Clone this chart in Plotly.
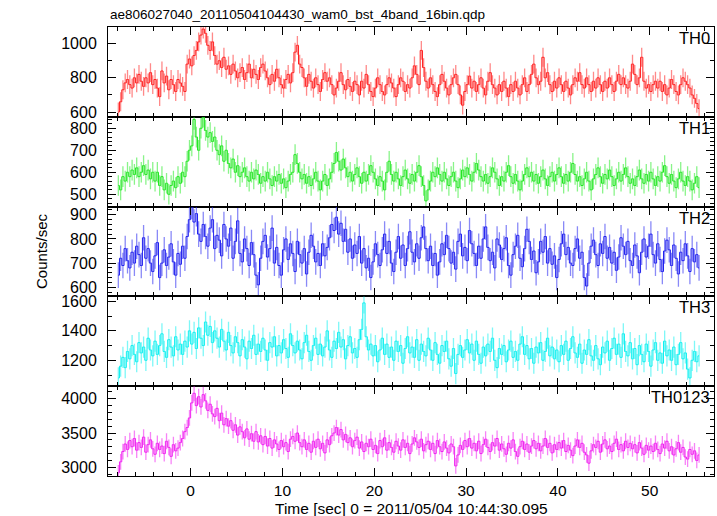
import plotly.graph_objects as go
from plotly.subplots import make_subplots

TITLE = "ae806027040_20110504104430_wam0_bst_4band_16bin.qdp"
XTITLE = "Time [sec] 0 = 2011/05/04 10:44:30.095"
YTITLE = "Counts/sec"
BANDS = ["TH0", "TH1", "TH2", "TH3", "TH0123"]
T_START = -8.0
BIN = 0.25

TH0 = [
    600, 660, 730, 770, 790, 760, 740, 800,
    770, 820, 780, 750, 800, 770, 830, 760,
    790, 740, 690, 840, 770, 810, 730, 790,
    760, 720, 790, 770, 750, 720, 880, 910,
    870, 930, 960, 1010, 1050, 1085, 1060, 990,
    960, 1010, 930, 880, 900, 860, 920, 850,
    870, 820, 880, 840, 800, 830, 860, 790,
    830, 880, 800, 850, 820, 790, 860, 880,
    840, 800, 760, 820, 780, 850, 800, 760,
    740, 790, 820, 770, 830, 950, 990, 880,
    860, 800, 750, 820, 780, 740, 800, 760,
    720, 790, 830, 780, 800, 760, 700, 740,
    780, 830, 760, 730, 790, 750, 720, 780,
    760, 700, 780, 740, 820, 760, 720, 690,
    740, 800, 760, 720, 700, 760, 800, 770,
    740, 690, 760, 800, 780, 720, 760, 740,
    800, 870, 820, 760, 960, 860, 780, 740,
    800, 760, 720, 690, 760, 820, 780, 740,
    700, 760, 800, 820, 760, 700, 640, 720,
    760, 810, 740, 780, 720, 760, 800, 740,
    700, 780, 830, 760, 740, 700, 760, 720,
    780, 740, 690, 760, 720, 780, 740, 700,
    760, 800, 720, 760, 820, 880, 800, 760,
    780, 920, 800, 830, 760, 720, 780, 740,
    800, 760, 720, 780, 740, 700, 760, 800,
    780, 830, 760, 740, 800, 760, 720, 780,
    740, 800, 760, 720, 780, 740, 800, 760,
    720, 780, 820, 760, 800, 760, 740, 780,
    880, 820, 760, 800, 920, 780, 740, 760,
    720, 760, 780, 740, 780, 720, 760, 700,
    740, 790, 760, 720, 700, 760, 800, 780,
    760, 740, 700, 680, 650, 620,
]
TH1 = [
    540, 520, 580, 560, 600, 580, 610, 590,
    620, 580, 600, 630, 590, 610, 570, 600,
    560, 600, 540, 580, 520, 550, 500, 540,
    560, 530, 580, 550, 600, 580, 650, 700,
    720, 840, 760, 700, 800, 850, 790, 760,
    780, 740, 760, 700, 680, 720, 650, 700,
    640, 620, 660, 600, 630, 580, 600, 620,
    580, 560, 600, 570, 610, 590, 550, 580,
    560, 600, 570, 540, 580, 560, 590, 550,
    570, 530, 560, 590, 600, 680, 640, 600,
    570, 590, 550, 580, 540, 570, 600, 560,
    520, 560, 590, 540, 570, 600, 640, 690,
    650, 610, 660, 620, 580, 600, 560, 590,
    620, 580, 550, 600, 560, 590, 630, 600,
    570, 540, 580, 560, 520, 600, 650, 590,
    560, 600, 570, 540, 580, 610, 570, 550,
    590, 560, 600, 630, 580, 540, 470, 520,
    560, 600, 580, 620, 590, 560, 600, 570,
    540, 580, 600, 560, 530, 570, 610, 580,
    620, 590, 560, 600, 640, 610, 580, 560,
    590, 550, 580, 620, 600, 570, 540, 580,
    560, 600, 630, 580, 550, 590, 560, 520,
    560, 590, 620, 580, 600, 560, 590, 550,
    580, 610, 570, 540, 580, 600, 560, 590,
    620, 580, 550, 590, 560, 600, 640, 590,
    560, 580, 540, 570, 600, 560, 520, 570,
    590, 620, 580, 550, 590, 570, 610, 580,
    540, 570, 600, 560, 590, 620, 580, 550,
    570, 540, 580, 610, 570, 550, 590, 560,
    600, 570, 540, 580, 560, 600, 630, 580,
    550, 590, 560, 530, 570, 600, 560, 540,
    580, 560, 520, 550, 580, 530,
]
TH2 = [
    650, 720, 690, 760, 710, 680, 745, 700,
    770, 735, 690, 805, 720, 760, 700, 665,
    730, 785, 640, 700, 755, 690, 725, 780,
    705, 650, 740, 695, 770, 720, 810, 880,
    935, 870, 905, 820, 790, 860, 810, 770,
    845, 880, 760, 815, 795, 730, 860, 800,
    770, 845, 720, 790, 875, 740, 705, 800,
    760, 690, 785, 735, 650, 610, 720, 790,
    815, 725, 760, 845, 700, 765, 690, 650,
    755, 800, 715, 780, 740, 665, 790, 735,
    700, 760, 655, 745, 815, 770, 705, 740,
    690, 780, 730, 765, 805, 860, 835, 890,
    820, 865, 790, 840, 745, 800, 720, 775,
    740, 810, 700, 760, 680, 720, 640, 705,
    780, 735, 690, 755, 820, 740, 790, 700,
    665, 745, 810, 720, 775, 690, 760, 830,
    745, 705, 780, 720, 805, 850, 760, 710,
    770, 690, 740, 650, 705, 780, 735, 815,
    760, 700, 745, 675, 790, 820, 730, 765,
    710, 835, 780, 740, 690, 770, 720, 800,
    850, 765, 710, 745, 680, 800, 775, 715,
    760, 805, 690, 650, 735, 770, 815, 720,
    685, 760, 840, 790, 715, 750, 660, 705,
    790, 745, 810, 700, 760, 695, 730, 640,
    715, 780, 820, 735, 765, 700, 690, 760,
    800, 720, 745, 640, 605, 700, 770, 795,
    735, 690, 780, 740, 810, 720, 765, 700,
    745, 670, 725, 805, 770, 735, 790, 710,
    690, 775, 730, 660, 745, 800, 725, 770,
    820, 735, 700, 780, 715, 665, 750, 795,
    755, 690, 775, 720, 655, 745, 710, 780,
    730, 665, 760, 705, 735, 680,
]
TH3 = [
    1080, 1160, 1220, 1150, 1260, 1210, 1300, 1240,
    1190, 1320, 1250, 1290, 1200, 1350, 1270, 1230,
    1330, 1240, 1300, 1380, 1260, 1220, 1340, 1290,
    1230, 1360, 1270, 1310, 1240, 1330, 1290, 1400,
    1310, 1390, 1280, 1420, 1350, 1300, 1460, 1370,
    1430, 1320, 1400, 1350, 1290, 1410, 1330, 1270,
    1390, 1300, 1250, 1360, 1320, 1230, 1340, 1290,
    1210, 1330, 1280, 1370, 1240, 1310, 1260, 1350,
    1270, 1200, 1320, 1290, 1360, 1230, 1300, 1250,
    1340, 1280, 1220, 1380, 1300, 1250, 1330, 1270,
    1210, 1320, 1370, 1260, 1200, 1300, 1350, 1240,
    1310, 1230, 1290, 1400, 1270, 1220, 1330, 1280,
    1390, 1290, 1340, 1210, 1300, 1360, 1250, 1280,
    1220, 1340, 1410, 1590, 1360, 1270, 1310, 1230,
    1300, 1190, 1270, 1350, 1240, 1310, 1220, 1290,
    1200, 1330, 1260, 1300, 1180, 1280, 1360, 1250,
    1290, 1220, 1340, 1200, 1310, 1260, 1230, 1350,
    1270, 1200, 1320, 1240, 1180, 1300, 1260, 1330,
    1210, 1160, 1280, 1110, 1240, 1300, 1220, 1270,
    1340, 1250, 1310, 1200, 1330, 1240, 1180, 1290,
    1230, 1310, 1260, 1350, 1200, 1150, 1280, 1240,
    1300, 1190, 1270, 1330, 1220, 1260, 1200, 1310,
    1360, 1240, 1300, 1210, 1280, 1180, 1290, 1250,
    1320, 1200, 1260, 1350, 1230, 1290, 1210, 1270,
    1190, 1300, 1240, 1330, 1200, 1280, 1360, 1250,
    1220, 1310, 1180, 1270, 1240, 1340, 1230, 1200,
    1300, 1210, 1170, 1290, 1250, 1330, 1200, 1280,
    1350, 1240, 1310, 1220, 1380, 1260, 1230, 1320,
    1210, 1280, 1170, 1300, 1240, 1190, 1310, 1260,
    1160, 1270, 1320, 1200, 1250, 1180, 1330, 1230,
    1270, 1200, 1290, 1170, 1240, 1320, 1210, 1250,
    1140, 1080, 1200, 1260, 1190, 1230,
]
TH0123 = [
    2920, 3080, 3230, 3340, 3260, 3390, 3300, 3420,
    3250, 3360, 3290, 3440, 3220, 3330, 3400, 3270,
    3190, 3350, 3260, 3310, 3200, 3380, 3290, 3160,
    3330, 3240, 3280, 3360, 3420, 3520, 3580, 3720,
    3940, 4080, 3900, 4030, 3880, 4060, 3970, 3830,
    3920, 3780, 3740, 3860, 3680, 3790, 3620, 3710,
    3600, 3680, 3540, 3620, 3470, 3590, 3520, 3430,
    3560, 3410, 3490, 3380, 3520, 3370, 3460, 3330,
    3450, 3310, 3420, 3280, 3400, 3340, 3260, 3390,
    3300, 3360, 3230, 3410, 3450, 3380, 3500, 3360,
    3300, 3400, 3260, 3350, 3220, 3380, 3290, 3410,
    3270, 3350, 3210, 3400, 3330, 3460, 3500, 3580,
    3470, 3550, 3400, 3480, 3360, 3430, 3300, 3390,
    3440, 3280, 3370, 3230, 3350, 3300, 3410, 3260,
    3320, 3200, 3390, 3300, 3430, 3250, 3360, 3290,
    3220, 3380, 3310, 3250, 3400, 3290, 3350, 3200,
    3340, 3430, 3370, 3290, 3410, 3240, 3330, 3380,
    3260, 3350, 3200, 3390, 3300, 3230, 3370, 3280,
    3210, 3340, 3300, 3020, 3180, 3320, 3260, 3390,
    3300, 3420, 3280, 3350, 3240, 3380, 3200, 3330,
    3410, 3290, 3230, 3360, 3310, 3420, 3250, 3340,
    3270, 3190, 3350, 3280, 3400, 3230, 3160, 3300,
    3380, 3260, 3340, 3220, 3310, 3390, 3270, 3350,
    3240, 3310, 3420, 3290, 3350, 3210, 3330, 3260,
    3360, 3280, 3390, 3230, 3320, 3250, 3170, 3310,
    3400, 3290, 3350, 3220, 3180, 3060, 3240, 3330,
    3290, 3380, 3220, 3340, 3400, 3270, 3310, 3230,
    3350, 3410, 3260, 3330, 3240, 3380, 3290, 3350,
    3270, 3330, 3210, 3360, 3280, 3190, 3320, 3250,
    3310, 3230, 3350, 3260, 3200, 3340, 3280, 3380,
    3240, 3300, 3180, 3270, 3360, 3220, 3290, 3150,
    3120, 3260, 3190, 3240, 3100, 3180,
]
SERIES = [TH0, TH1, TH2, TH3, TH0123]
ERRORS = [55, 47, 53, 72, 115]

Y_RANGES = [[572, 1097], [444, 852], [562, 934], [1024, 1634], [2873, 4183]]
Y_TICKS = [[600, 800, 1000], [500, 600, 700, 800], [600, 700, 800, 900],
           [1200, 1400, 1600], [3000, 3500, 4000]]
Y_MINOR = [100, 20, 20, 100, 100]
LINE_COLORS = ["#ff2020", "#22e622", "#2020ee", "#10f0f0", "#f020f0"]
ERR_COLORS = ["rgba(255,40,40,0.55)", "rgba(40,235,40,0.55)", "rgba(40,40,240,0.55)",
              "rgba(20,240,240,0.55)", "rgba(240,30,240,0.55)"]

FONT = "Liberation Sans, Arial, sans-serif"

fig = make_subplots(rows=5, cols=1, shared_xaxes=True, vertical_spacing=0)

for i, vals in enumerate(SERIES):
    t = [T_START + BIN * (k + 0.5) for k in range(len(vals))]
    fig.add_trace(go.Scatter(
        x=t, y=vals, mode="lines",
        line=dict(color=LINE_COLORS[i], width=1, shape="hvh"),
        error_y=dict(type="data", array=[ERRORS[i]] * len(vals), thickness=1.3,
                     width=0, color=ERR_COLORS[i]),
        showlegend=False, hoverinfo="skip",
    ), row=i + 1, col=1)
    fig.update_yaxes(
        range=Y_RANGES[i], tickvals=Y_TICKS[i], ticks="inside", ticklen=8,
        tickcolor="black", showline=True, linecolor="black", linewidth=1,
        mirror="ticks", showgrid=False, zeroline=False, ticklabelstandoff=7,
        tickfont=dict(family=FONT, size=16, color="black"),
        minor=dict(dtick=Y_MINOR[i], tick0=0, ticks="inside", ticklen=4,
                   tickcolor="black", showgrid=False),
        row=i + 1, col=1)
    fig.add_annotation(
        text=BANDS[i], xref="x domain" if i == 0 else f"x{i+1} domain",
        yref="y domain" if i == 0 else f"y{i+1} domain",
        x=1, y=1, xanchor="right", yanchor="top", xshift=-2, yshift=0,
        showarrow=False, font=dict(family=FONT, size=16.5, color="black"))

fig.update_xaxes(
    range=[-9, 57], dtick=10, tick0=0, ticks="inside", ticklen=8,
    tickcolor="black", showline=True, linecolor="black", linewidth=1,
    mirror="ticks", showgrid=False, zeroline=False,
    tickfont=dict(family=FONT, size=15.5, color="black"),
    minor=dict(dtick=2, tick0=0, ticks="inside", ticklen=4, tickcolor="black",
               showgrid=False))

fig.add_annotation(text=TITLE, xref="paper", yref="paper", x=0, y=1,
                   xanchor="left", yanchor="bottom", yshift=3, showarrow=False,
                   font=dict(family=FONT, size=13.5, color="black"))
fig.add_annotation(text=XTITLE, xref="paper", yref="paper", x=0.5, y=0,
                   xanchor="center", yanchor="top", yshift=-22, showarrow=False,
                   font=dict(family=FONT, size=15.5, color="black"))
fig.add_annotation(text=YTITLE, xref="paper", yref="paper", x=0, y=0.5,
                   xanchor="right", yanchor="middle", xshift=-56, textangle=-90,
                   showarrow=False, font=dict(family=FONT, size=15, color="black"))

fig.update_layout(
    width=717, height=516,
    margin=dict(l=108, r=3, t=27, b=40),
    paper_bgcolor="white", plot_bgcolor="white",
)

fig.write_html("out.html", config={"displayModeBar": False},
               post_script="document.body.style.margin='0';"
                           "document.body.style.overflow='hidden';")
